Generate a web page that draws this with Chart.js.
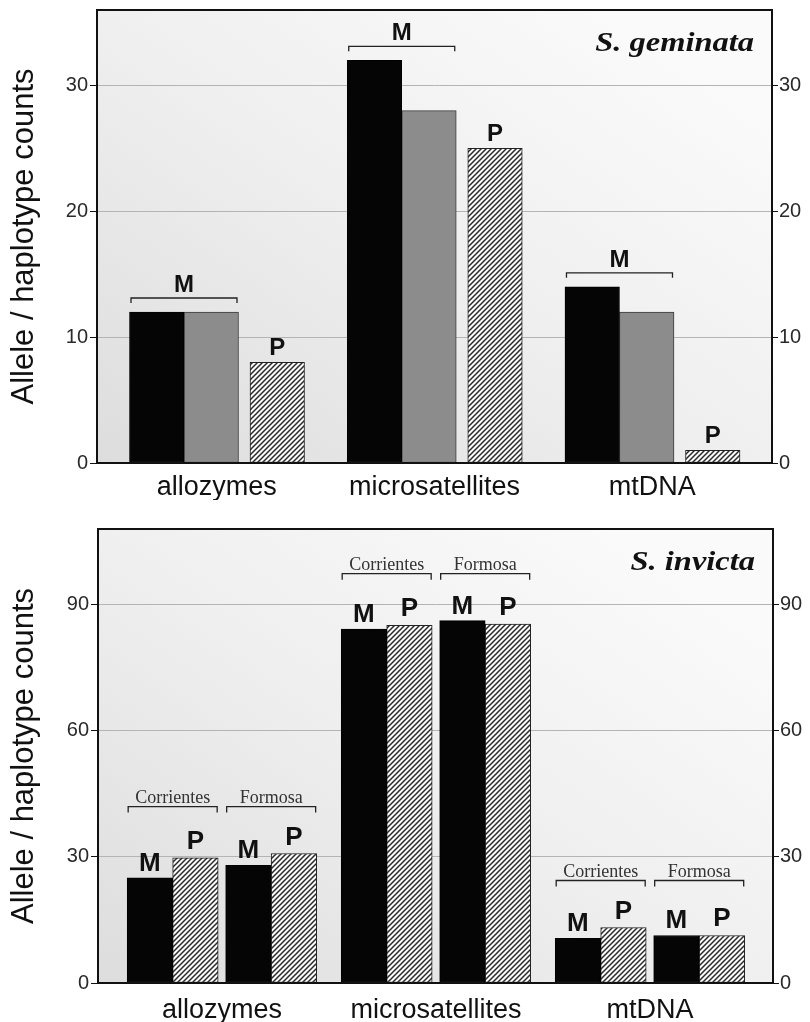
<!DOCTYPE html>
<html>
<head>
<meta charset="utf-8">
<script src="https://cdn.jsdelivr.net/npm/chart.js@4.4.0/dist/chart.umd.min.js"></script>
<style>
  html, body { margin: 0; padding: 0; background: #fff; }
  canvas { position: absolute; left: 0; }
  #c1 { top: 0; }
  #c2 { top: 500px; }
</style>
</head>
<body>
<canvas id="c1" width="810" height="500"></canvas>
<canvas id="c2" width="810" height="522"></canvas>
<script>
// --- data ---
const categories = ['allozymes', 'microsatellites', 'mtDNA'];

// S. geminata: two monogyne samples (M) and one polygyne (P)
const geminataM1 = [12, 32, 14];
const geminataM2 = [12, 28, 12];
const geminataP = [8, 25, 1];
const geminataTicks = [0, 10, 20, 30];

// S. invicta: Corrientes and Formosa, M and P each
const populations = ['Corrientes', 'Formosa'];
const invictaCorrM = [25, 84.2, 10.6];
const invictaCorrP = [29.8, 85.1, 13.2];
const invictaFormM = [28, 86.2, 11.3];
const invictaFormP = [30.8, 85.4, 11.3];
const invictaTicks = [0, 30, 60, 90];

const yTitle = 'Allele / haplotype counts';

// --- styling helpers ---
const SANS = '"Liberation Sans", Arial, sans-serif';
const SERIF = '"Liberation Serif", "Times New Roman", serif';

function hatchPattern(ctx) {
  const c = document.createElement('canvas');
  c.width = 5; c.height = 5;
  const g = c.getContext('2d');
  g.fillStyle = '#fbfbfb';
  g.fillRect(0, 0, 5, 5);
  g.strokeStyle = '#2a2a2a';
  g.lineWidth = 1.5;
  g.beginPath();
  g.moveTo(-1, 6); g.lineTo(6, -1);
  g.moveTo(-1, 1); g.lineTo(1, -1);
  g.moveTo(4, 6); g.lineTo(6, 4);
  g.stroke();
  return ctx.createPattern(c, 'repeat');
}

function bracket(ctx, left, right, y, drop) {
  ctx.beginPath();
  ctx.moveTo(left, y + drop);
  ctx.lineTo(left, y);
  ctx.lineTo(right, y);
  ctx.lineTo(right, y + drop);
  ctx.stroke();
}

// photocopy-like shading: grey at the lower left, fading to white
const backdrop = {
  id: 'backdrop',
  beforeDraw(chart) {
    const { ctx, chartArea: a } = chart;
    const w = a.right - a.left, h = a.bottom - a.top;
    const g = ctx.createLinearGradient(a.left, a.bottom, a.left + w * 0.55, a.top - h * 0.2);
    g.addColorStop(0, '#dddddd');
    g.addColorStop(0.55, '#efefef');
    g.addColorStop(1, '#fafafa');
    ctx.save();
    ctx.fillStyle = g;
    ctx.fillRect(a.left, a.top, w, h);
    ctx.restore();
  }
};

const frame = {
  id: 'frame',
  afterDraw(chart) {
    const { ctx, chartArea: a } = chart;
    ctx.save();
    ctx.strokeStyle = '#111';
    ctx.lineWidth = 2;
    ctx.strokeRect(a.left, a.top, a.right - a.left, a.bottom - a.top);
    // species name
    const o = chart.options.plugins.species;
    ctx.font = 'italic bold 28px ' + SERIF;
    ctx.fillStyle = '#111';
    ctx.textAlign = 'right';
    ctx.textBaseline = 'alphabetic';
    ctx.translate(a.right - 18, a.top + 41);
    ctx.scale(1.16, 1);
    ctx.fillText(o.name, 0, 0);
    ctx.restore();
  }
};

function yAxes(max, ticks, leftW, rightW) {
  const build = axis => { axis.ticks = ticks.map(v => ({ value: v })); };
  const tickFont = { family: SANS, size: 20 };
  return {
    y: {
      position: 'left', min: 0, max: max,
      afterBuildTicks: build,
      afterFit(s) { s.width = leftW; s.paddingTop = 0; s.paddingBottom = 0; },
      border: { display: false },
      grid: { color: '#b4b4b4', lineWidth: 1, tickColor: '#111', tickLength: 7 },
      ticks: { font: tickFont, color: '#2a2a2a', padding: 2, includeBounds: false },
      title: { display: true, text: yTitle, color: '#111', font: { family: SANS, size: 31 }, padding: { top: 6, bottom: 0 } }
    },
    y2: {
      position: 'right', min: 0, max: max,
      afterBuildTicks: build,
      afterFit(s) { s.width = rightW; s.paddingTop = 0; s.paddingBottom = 0; },
      border: { display: false },
      grid: { drawOnChartArea: false, tickColor: '#111', tickLength: 6 },
      ticks: { font: tickFont, color: '#2a2a2a', padding: 1, includeBounds: false }
    }
  };
}

function xAxis(min, max, height, pad) {
  return {
    type: 'linear', position: 'bottom', min: min, max: max, offset: false,
    afterBuildTicks(axis) { axis.ticks = categories.map((c, i) => ({ value: i })); },
    afterFit(s) { s.height = height; s.paddingLeft = 0; s.paddingRight = 0; },
    border: { display: false },
    grid: { display: false, drawTicks: false, offset: false },
    ticks: {
      autoSkip: false, maxRotation: 0, padding: pad, color: '#111',
      font: { family: SANS, size: 27 },
      callback: v => categories[v]
    }
  };
}

function bars(values, offset, fill, border, thickness) {
  return {
    data: values.map((v, i) => ({ x: i + offset, y: v })),
    backgroundColor: fill,
    borderColor: border,
    borderWidth: 1,
    borderSkipped: false,
    grouped: false,
    barThickness: thickness
  };
}

// --- top panel: S. geminata ---
const ctx1 = document.getElementById('c1').getContext('2d');
const hatch1 = hatchPattern(ctx1);
const slot1 = [-0.2756, -0.0253, 0.2779];

const geminataLabels = {
  id: 'geminataLabels',
  afterDraw(chart) {
    const ctx = chart.ctx;
    const m1 = chart.getDatasetMeta(0).data;
    const m2 = chart.getDatasetMeta(1).data;
    const p = chart.getDatasetMeta(2).data;
    ctx.save();
    ctx.strokeStyle = '#222';
    ctx.lineWidth = 1.3;
    ctx.fillStyle = '#111';
    ctx.font = 'bold 24px ' + SANS;
    ctx.textAlign = 'center';
    ctx.textBaseline = 'alphabetic';
    categories.forEach((c, i) => {
      const a = m1[i], b = m2[i];
      const left = a.x - a.width / 2 + 1.5;
      const right = b.x + b.width / 2 - 1.5;
      const y = Math.min(a.y, b.y) - 14;
      bracket(ctx, left, right, y, 5);
      ctx.fillText('M', (left + right) / 2, y - 6);
      ctx.fillText('P', p[i].x, p[i].y - 7);
    });
    ctx.restore();
  }
};

new Chart(ctx1, {
  type: 'bar',
  data: {
    datasets: [
      bars(geminataM1, slot1[0], '#050505', '#000', 54.5),
      bars(geminataM2, slot1[1], '#8c8c8c', '#3a3a3a', 54.5),
      bars(geminataP, slot1[2], hatch1, '#222', 54.5)
    ]
  },
  options: {
    responsive: false,
    animation: false,
    layout: { padding: { top: 10, left: 0, right: 0, bottom: 0 } },
    scales: Object.assign({ x: xAxis(-0.55, 2.55, 37, 8) }, yAxes(36, geminataTicks, 97, 38)),
    plugins: {
      legend: { display: false },
      tooltip: { enabled: false },
      species: { name: 'S. geminata' }
    }
  },
  plugins: [backdrop, frame, geminataLabels]
});

// --- bottom panel: S. invicta ---
const ctx2 = document.getElementById('c2').getContext('2d');
const hatch2 = hatchPattern(ctx2);
const slot2 = [-0.3364, -0.1238, 0.1238, 0.3364];

const invictaLabels = {
  id: 'invictaLabels',
  afterDraw(chart) {
    const ctx = chart.ctx;
    const metas = [0, 1, 2, 3].map(k => chart.getDatasetMeta(k).data);
    ctx.save();
    ctx.strokeStyle = '#222';
    ctx.lineWidth = 1.3;
    ctx.textAlign = 'center';
    ctx.textBaseline = 'alphabetic';
    categories.forEach((c, i) => {
      const top = Math.min(...metas.map(m => m[i].y));
      const y = top - 47;
      populations.forEach((pop, k) => {
        const mb = metas[2 * k][i], pb = metas[2 * k + 1][i];
        const left = mb.x - mb.width / 2 + 1;
        const right = pb.x + pb.width / 2 - 1;
        bracket(ctx, left, right, y, 6);
        ctx.fillStyle = '#333';
        ctx.font = '18px ' + SERIF;
        ctx.fillText(pop, (left + right) / 2, y - 4);
        ctx.fillStyle = '#111';
        ctx.font = 'bold 26px ' + SANS;
        ctx.fillText('M', mb.x, mb.y - 7);
        ctx.fillText('P', pb.x, pb.y - 9);
      });
    });
    ctx.restore();
  }
};

new Chart(ctx2, {
  type: 'bar',
  data: {
    datasets: [
      bars(invictaCorrM, slot2[0], '#050505', '#000', 45.5),
      bars(invictaCorrP, slot2[1], hatch2, '#222', 45.5),
      bars(invictaFormM, slot2[2], '#050505', '#000', 45.5),
      bars(invictaFormP, slot2[3], hatch2, '#222', 45.5)
    ]
  },
  options: {
    responsive: false,
    animation: false,
    layout: { padding: { top: 29, left: 0, right: 0, bottom: 0 } },
    scales: Object.assign({ x: xAxis(-0.579, 2.575, 39, 11) }, yAxes(108, invictaTicks, 98, 37)),
    plugins: {
      legend: { display: false },
      tooltip: { enabled: false },
      species: { name: 'S. invicta' }
    }
  },
  plugins: [backdrop, frame, invictaLabels]
});
</script>
</body>
</html>
